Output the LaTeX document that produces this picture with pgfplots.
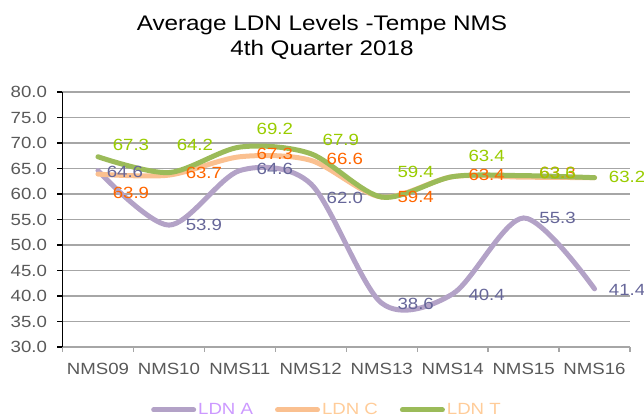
\documentclass[border=0pt]{standalone}
\usepackage{pgfplots}
\pgfplotsset{compat=1.18}
\usepackage{pgfplotstable}
\usepackage{fontspec}
\setmainfont{Liberation Sans}[FakeStretch=1.15]

\definecolor{lineA}{HTML}{B3A2C7}
\definecolor{lineC}{HTML}{FAC090}
\definecolor{lineT}{HTML}{9BBB59}
\definecolor{lblA}{HTML}{666699}
\definecolor{lblC}{HTML}{FF6600}
\definecolor{lblT}{HTML}{99CC00}
\definecolor{legA}{HTML}{CC99FF}
\definecolor{legC}{HTML}{FFCC99}
\definecolor{tickgray}{HTML}{595959}
\definecolor{gridgray}{HTML}{A6A6A6}

\pgfplotstableread{
x y dx dy lbl
0 64.6 27 -1.5 64.6
1 53.9 35 0 53.9
2 64.6 35 1.5 64.6
3 62.0 34 -14 62.0
4 38.6 34 -1 38.6
5 40.4 34 -1 40.4
6 55.3 34 0 55.3
7 41.4 32.5 -1 41.4
}\tblA

\pgfplotstableread{
x y dx dy lbl
0 63.9 33 -19 63.9
1 63.7 35 2 63.7
2 67.3 35 3 67.3
3 66.6 34 1 66.6
4 59.4 34 0 59.4
5 63.4 34 2 63.4
6 63.3 34 4 63.3
7 63.2 32.5 1 {}
}\tblC

\pgfplotstableread{
x y dx dy lbl
0 67.3 33 12 67.3
1 64.2 26 27.6 64.2
2 69.2 35 18 69.2
3 67.9 30 13.7 67.9
4 59.4 34 25 59.4
5 63.4 34 20.7 63.4
6 63.6 34 2.6 63.6
7 63.2 32.5 0.7 63.2
}\tblT

\begin{document}
\begin{tikzpicture}
\useasboundingbox (-62.5pt,-72pt) rectangle (581.5pt,347pt);
\begin{axis}[
  anchor=south west, at={(0pt,0pt)},
  scale only axis, width=567.5pt, height=255pt,
  xmin=-0.5, xmax=7.5, ymin=30, ymax=80,
  clip=false,
  axis x line*=bottom, axis y line*=left,
  axis line style={-},
  x axis line style={gridgray, line width=1.3pt},
  y axis line style={black, line width=1.3pt},
  xtick={0,...,7},
  xticklabels={NMS09,NMS10,NMS11,NMS12,NMS13,NMS14,NMS15,NMS16},
  major x tick style={draw=none},
  minor xtick={-0.5,0.5,1.5,2.5,3.5,4.5,5.5,6.5,7.5},
  minor x tick style={gridgray, line width=1.3pt},
  ytick={30,35,...,80},
  y tick style={black, line width=1.3pt},
  tick align=outside,
  major tick length=5pt, minor tick length=5pt,
  ymajorgrids, major grid style={gridgray, line width=1.3pt},
  /pgf/number format/assume math mode=true,
  yticklabel={\pgfmathprintnumber[fixed,fixed zerofill,precision=1]{\tick}},
  ticklabel style={font=\fontsize{16.2}{19}\selectfont, text=tickgray},
  yticklabel style={xshift=-7pt},
  xticklabel style={yshift=-8pt},
  legend style={at={(0.466,-0.247)}, anchor=center, draw=none, fill=none,
    legend columns=-1, font=\fontsize{16.2}{19}\selectfont,
    /tikz/every even column/.append style={column sep=20pt}},
  legend image code/.code={\draw[line width=5pt, line cap=round] (0pt,0pt) -- (40pt,0pt);},
  every node near coord/.append style={font=\fontsize{16.2}{19}\selectfont, anchor=center},
]
\addplot[lineA, line width=5pt, smooth, line cap=round,
  nodes near coords, point meta=explicit symbolic,
  visualization depends on={\thisrow{dx} \as \lbldx},
  visualization depends on={\thisrow{dy} \as \lbldy},
  nodes near coords style={text=lblA, xshift=\lbldx, yshift=\lbldy}]
  table[x=x, y=y, meta=lbl] {\tblA};
\addlegendentry{\textcolor{legA}{LDN A}}
\addplot[lineC, line width=5pt, smooth, line cap=round,
  nodes near coords, point meta=explicit symbolic,
  visualization depends on={\thisrow{dx} \as \lbldx},
  visualization depends on={\thisrow{dy} \as \lbldy},
  nodes near coords style={text=lblC, xshift=\lbldx, yshift=\lbldy}]
  table[x=x, y=y, meta=lbl] {\tblC};
\addlegendentry{\textcolor{legC}{LDN C}}
\addplot[lineT, line width=5pt, smooth, line cap=round,
  nodes near coords, point meta=explicit symbolic,
  visualization depends on={\thisrow{dx} \as \lbldx},
  visualization depends on={\thisrow{dy} \as \lbldy},
  nodes near coords style={text=lblT, xshift=\lbldx, yshift=\lbldy}]
  table[x=x, y=y, meta=lbl] {\tblT};
\addlegendentry{\textcolor{legC}{LDN T}}
\end{axis}
\node[font=\fontsize{21.1}{24.5}\selectfont, align=center] at (259.5pt,309.5pt)
  {Average LDN Levels -Tempe NMS\\4th Quarter 2018};
\end{tikzpicture}
\end{document}
